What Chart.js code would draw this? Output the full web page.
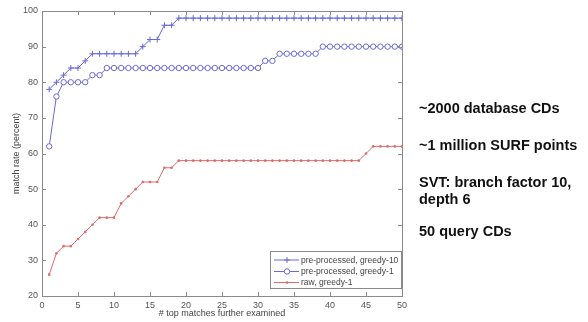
<!DOCTYPE html>
<html><head><meta charset="utf-8">
<script src="https://cdn.jsdelivr.net/npm/chart.js@4"></script>
<style>
html,body{margin:0;padding:0;background:#fff;}
#wrap{position:relative;width:588px;height:322px;overflow:hidden;}
canvas{position:absolute;left:0;top:0;}
.note{position:absolute;left:419px;font:bold 14.5px "Liberation Sans",Arial,sans-serif;color:#111;line-height:17px;white-space:nowrap;}
</style></head><body>
<div id="wrap"><canvas id="c" width="588" height="322"></canvas>
<div class="note" style="top:100px">~2000 database CDs</div>
<div class="note" style="top:137px">~1 million SURF points</div>
<div class="note" style="top:174px">SVT: branch factor 10,<br>depth 6</div>
<div class="note" style="top:223px">50 query CDs</div>
</div>
<script>
const topMatches = [1,2,3,4,5,6,7,8,9,10,11,12,13,14,15,16,17,18,19,20,21,22,23,24,25,26,27,28,29,30,31,32,33,34,35,36,37,38,39,40,41,42,43,44,45,46,47,48,49,50];
const preGreedy10 = [78,80,82,84,84,86,88,88,88,88,88,88,88,90,92,92,96,96,98,98,98,98,98,98,98,98,98,98,98,98,98,98,98,98,98,98,98,98,98,98,98,98,98,98,98,98,98,98,98,98];
const preGreedy1 = [62,76,80,80,80,80,82,82,84,84,84,84,84,84,84,84,84,84,84,84,84,84,84,84,84,84,84,84,84,84,86,86,88,88,88,88,88,88,90,90,90,90,90,90,90,90,90,90,90,90];
const rawGreedy1 = [26,32,34,34,36,38,40,42,42,42,46,48,50,52,52,52,56,56,58,58,58,58,58,58,58,58,58,58,58,58,58,58,58,58,58,58,58,58,58,58,58,58,58,58,60,62,62,62,62,62];
const seriesNames = ['pre-processed, greedy-10','pre-processed, greedy-1','raw, greedy-1'];
const xTicks = [0,5,10,15,20,25,30,35,40,45,50];
const yTicks = [20,30,40,50,60,70,80,90,100];

const BLUE = '#6a6ad4', RED = '#e06a6a';
const pts = arr => topMatches.map((x,i)=>({x:x,y:arr[i]}));

const frameTicks = {
  id:'frameTicks',
  afterDraw(chart){
    const {ctx, chartArea:a, scales:{x,y}} = chart;
    ctx.save();
    ctx.strokeStyle='#8a8a8a'; ctx.lineWidth=1;
    ctx.strokeRect(Math.round(a.left)+0.5, Math.round(a.top)+0.5, Math.round(a.right-a.left), Math.round(a.bottom-a.top));
    ctx.beginPath();
    xTicks.forEach(v=>{const px=Math.round(x.getPixelForValue(v))+0.5;
      ctx.moveTo(px,a.bottom); ctx.lineTo(px,a.bottom-4);
      ctx.moveTo(px,a.top); ctx.lineTo(px,a.top+4);});
    yTicks.forEach(v=>{const py=Math.round(y.getPixelForValue(v))+0.5;
      ctx.moveTo(a.left,py); ctx.lineTo(a.left+4,py);
      ctx.moveTo(a.right,py); ctx.lineTo(a.right-4,py);});
    ctx.stroke();
    // legend
    const L=270,T=251,R=402,B=289;
    ctx.fillStyle='#fff'; ctx.fillRect(L,T,R-L,B-T);
    ctx.strokeStyle='#8a8a8a'; ctx.strokeRect(L+0.5,T+0.5,R-L-1,B-T-1);
    const rows=[260,271.5,282.5];
    chart.data.datasets.forEach((ds,i)=>{
      const yy=rows[i];
      ctx.strokeStyle=ds.borderColor; ctx.lineWidth=1;
      ctx.beginPath(); ctx.moveTo(274,yy); ctx.lineTo(299,yy); ctx.stroke();
      const mx=287;
      if(ds.pointStyle==='cross'){ctx.beginPath();ctx.moveTo(mx-3,yy);ctx.lineTo(mx+3,yy);ctx.moveTo(mx,yy-3);ctx.lineTo(mx,yy+3);ctx.stroke();}
      else if(ds.pointRadius>2){ctx.beginPath();ctx.arc(mx,yy,2.7,0,Math.PI*2);ctx.fillStyle='#fff';ctx.fill();ctx.stroke();}
      else {ctx.beginPath();ctx.arc(mx,yy,1.3,0,Math.PI*2);ctx.fillStyle=ds.borderColor;ctx.fill();}
      ctx.fillStyle='#444'; ctx.font='8.5px "Liberation Sans", Arial, sans-serif';
      ctx.textBaseline='middle'; ctx.textAlign='left';
      ctx.fillText(ds.label,301,yy+0.5);
    });
    ctx.restore();
  }
};

new Chart(document.getElementById('c'),{
  type:'line',
  data:{datasets:[
    {label:seriesNames[0],data:pts(preGreedy10),borderColor:BLUE,backgroundColor:BLUE,borderWidth:1,pointStyle:'cross',pointRadius:3,pointBorderWidth:1,fill:false,tension:0},
    {label:seriesNames[1],data:pts(preGreedy1),borderColor:BLUE,backgroundColor:'#fff',borderWidth:1,pointStyle:'circle',pointRadius:2.7,pointBorderWidth:1,fill:false,tension:0},
    {label:seriesNames[2],data:pts(rawGreedy1),borderColor:RED,backgroundColor:RED,borderWidth:1,pointStyle:'circle',pointRadius:1.3,pointBorderWidth:0,fill:false,tension:0}
  ]},
  options:{
    responsive:false, animation:false, devicePixelRatio:1,
    layout:{padding:{left:0,top:11,right:186,bottom:0}},
    plugins:{legend:{display:false},tooltip:{enabled:false}},
    scales:{
      x:{type:'linear',min:0,max:50,
        afterBuildTicks(s){s.ticks=xTicks.map(v=>({value:v}));},
        ticks:{color:'#555',font:{size:9,family:'"Liberation Sans", Arial, sans-serif'},padding:4,maxRotation:0},
        grid:{display:false,drawTicks:false},border:{display:false},
        title:{display:true,text:'# top matches further examined',color:'#444',font:{size:9,family:'"Liberation Sans", Arial, sans-serif'},padding:{top:0,bottom:3}},
        afterFit(s){s.height=26;}
      },
      y:{min:20,max:100,
        afterBuildTicks(s){s.ticks=yTicks.map(v=>({value:v}));},
        ticks:{color:'#555',font:{size:9,family:'"Liberation Sans", Arial, sans-serif'},padding:4},
        grid:{display:false,drawTicks:false},border:{display:false},
        title:{display:true,text:'match rate (percent)',color:'#444',font:{size:9,family:'"Liberation Sans", Arial, sans-serif'},padding:{top:11,bottom:0}},
        afterFit(s){s.width=42;}
      }
    }
  },
  plugins:[frameTicks]
});
</script>
</body></html>
